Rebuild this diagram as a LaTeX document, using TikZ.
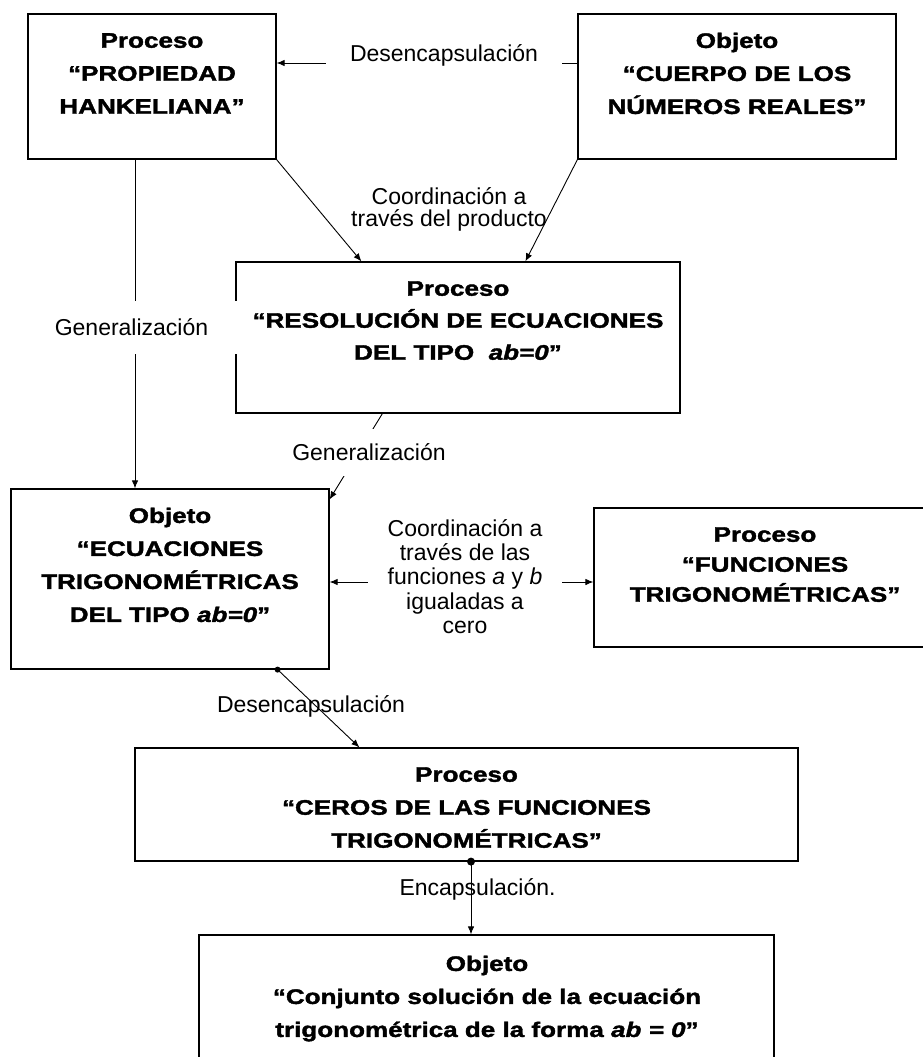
\documentclass[tikz,border=0pt]{standalone}
\usepackage{fontspec}
\setmainfont{Liberation Sans}
\newfontfamily\boxfont{Liberation Sans}[FakeStretch=1.24, BoldFeatures={FakeBold=1.8}, BoldItalicFeatures={FakeBold=1.8}]
\usetikzlibrary{arrows.meta}
\newcommand{\bstr}{\rule{0pt}{15pt}}
\newcommand{\lstr}{\rule{0pt}{18pt}}
\begin{document}
\begin{tikzpicture}[x=1pt,y=-1pt,
  box/.style={draw, line width=1.2pt, inner sep=0pt},
  btext/.style={anchor=north, inner sep=0pt, align=center, font=\boxfont\bfseries\fontsize{21}{33}\selectfont},
  lab/.style={inner sep=0pt, align=center, font=\fontsize{23}{24.3}\selectfont},
  conn/.style={line width=0.9pt, -{Latex[length=8pt,width=6.5pt]}},
  bothconn/.style={line width=0.9pt, {Latex[length=8pt,width=6.5pt]}-{Latex[length=8pt,width=6.5pt]}},
]
\useasboundingbox (0,0) rectangle (922,1057);
\fill[white] (0,0) rectangle (922,1057);

% boxes
\node[box, minimum width=248pt, minimum height=145pt] (A) at (152,86.5) {};
\node[btext] (At) at (152,32.5) {\bstr Proceso\\“PROPIEDAD\\HANKELIANA”};

\node[box, minimum width=318pt, minimum height=145pt] (B) at (737,86.5) {};
\node[btext] (Bt) at (737,32.5) {\bstr Objeto\\“CUERPO DE LOS\\NÚMEROS REALES”};

\node[box, minimum width=444pt, minimum height=151pt] (C) at (458,337.5) {};
\node[btext, font=\boxfont\bfseries\fontsize{21}{32}\selectfont] (Ct) at (458,280.5) {\bstr Proceso\\“RESOLUCIÓN DE ECUACIONES\\DEL TIPO \ {\itshape ab=0}”};

\node[box, minimum width=318pt, minimum height=180pt] (D) at (170,579) {};
\node[btext] (Dt) at (170,507.5) {\bstr Objeto\\“ECUACIONES\\TRIGONOMÉTRICAS\\DEL TIPO {\itshape ab=0}”};

\node[box, minimum width=342pt, minimum height=139pt] (E) at (765,577.5) {};
\node[btext, font=\boxfont\bfseries\fontsize{21}{30}\selectfont] (Et) at (765,526.5) {\bstr Proceso\\“FUNCIONES\\TRIGONOMÉTRICAS”};

\node[box, minimum width=663pt, minimum height=113pt] (F) at (466.5,804.5) {};
\node[btext] (Ft) at (466.5,766.5) {\bstr Proceso\\“CEROS DE LAS FUNCIONES\\TRIGONOMÉTRICAS”};

\node[box, minimum width=575pt, minimum height=130pt] (G) at (486.5,1000) {};
\node[btext] (Gt) at (487,955.5) {\bstr Objeto\\“Conjunto solución de la ecuación\\trigonométrica de la forma {\itshape ab = 0}”};

% connectors
\draw[conn] ([yshift=23.5pt]B.west) -- ([yshift=23.5pt]A.east);
\draw[conn] (A.south east) -- ([xshift=126pt]C.north west);
\draw[conn] (B.south west) -- ([xshift=290pt]C.north west);
\draw[conn] ([xshift=-17pt]A.south) -- ([xshift=-17pt]A.south |- D.north);
\draw[conn] ([xshift=147pt]C.south west) -- ([yshift=-11pt]D.north east);
\coordinate (m) at ([yshift=-3pt]D.east);
\draw[bothconn] (m) -- (m -| E.west);
\coordinate (d1) at ([xshift=-52pt]D.south east);
\draw[conn] (d1) -- ([xshift=225pt]F.north west);
\fill (d1) circle (3pt);
\coordinate (f1) at ([xshift=4.5pt]F.south);
\draw[conn] (f1) -- (f1 |- G.north);
\fill (f1) circle (4pt);

% labels
\node[lab, fill=white, minimum width=236pt, minimum height=30pt] (L1) at (444,55.8) {Desencapsulación};
\node[lab, anchor=north, font=\fontsize{23}{22}\selectfont] (L2) at (449,186) {\lstr Coordinación a\\través del producto};
\node[lab, fill=white, minimum width=212pt, minimum height=53pt] (L3) at (131.5,327.4) {Generalización};
\node[lab, fill=white, minimum width=180pt, minimum height=47pt] (L4) at (369,452) {Generalización};
\node[lab, anchor=north, fill=white, minimum width=194pt] (L5) at (465,518) {\lstr Coordinación a\\través de las\\funciones \textit{a} y \textit{b}\\igualadas a\\cero};
\node[lab, anchor=base] (L6) at (311,712) {Desencapsulación};
\node[lab, anchor=base] (L7) at (477.5,895) {Encapsulación.};
\end{tikzpicture}
\end{document}
